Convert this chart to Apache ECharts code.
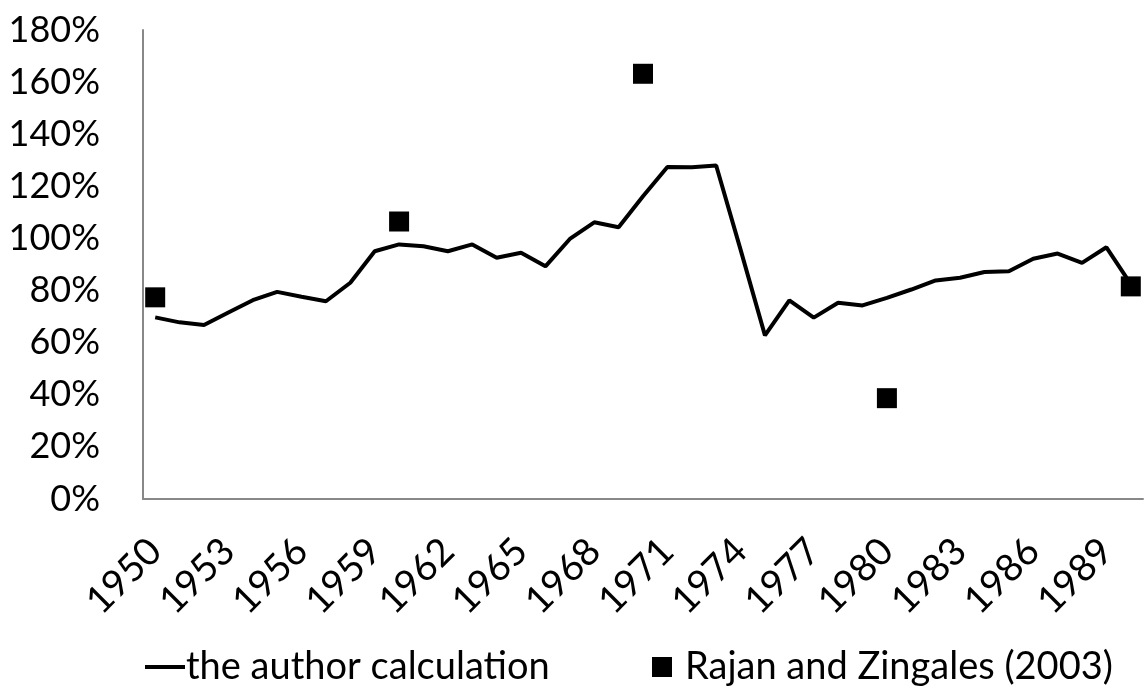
<!DOCTYPE html>
<html>
<head>
<meta charset="utf-8">
<script src="https://cdn.jsdelivr.net/npm/echarts@6/dist/echarts.min.js"></script>
<style>
  html, body { margin: 0; padding: 0; background: #fff; }
  #chart { width: 1144px; height: 696px; }
</style>
</head>
<body>
<div id="chart"></div>
<script>
// years 1950..1990
var years = [];
for (var y = 1950; y <= 1990; y++) years.push(String(y));

// line, in percent
var authorCalc = [
  69.7, 67.8, 66.8, 71.6, 76.3, 79.5, 77.6, 75.9, 83.0, 95.1,
  97.7, 97.0, 95.1, 97.7, 92.6, 94.5, 89.3, 99.8, 106.2, 104.3,
  116.2, 127.4, 127.3, 128.0, 95.7, 62.8, 76.2, 69.6, 75.3, 74.3,
  77.2, 80.4, 83.9, 84.9, 87.1, 87.4, 92.2, 94.2, 90.6, 96.6,
  82.5
];

// squares, every ten years
var rzYears = ['1950', '1960', '1970', '1980', '1990'];
var rzValues = [77.4, 106.5, 163.2, 38.7, 81.6];

var fontName = 'Lato, "Noto Sans", sans-serif';
var lineName = 'the author calculation';
var dotName = 'Rajan and Zingales (2003)';

var chart = echarts.init(document.getElementById('chart'));
chart.setOption({
  animation: false,
  textStyle: { fontFamily: fontName, color: '#000' },
  grid: { left: 143, right: 1, top: 30, bottom: 197, containLabel: false },
  legend: [{
    data: [{ name: lineName, icon: 'rect' }],
    left: 140, top: 643,
    itemWidth: 40, itemHeight: 4, itemGap: 4,
    textStyle: { fontSize: 38, color: '#000', fontFamily: fontName, padding: [0, 0, 0, -4] }
  }, {
    data: [{ name: dotName, icon: 'rect' }],
    left: 647, top: 643,
    itemWidth: 20, itemHeight: 20,
    textStyle: { fontSize: 38, color: '#000', fontFamily: fontName, padding: [0, 0, 0, 8] }
  }],
  xAxis: {
    type: 'category',
    data: years,
    boundaryGap: true,
    axisLine: { lineStyle: { color: '#888', width: 2 } },
    axisTick: { show: false },
    axisLabel: {
      interval: 2,
      rotate: 45,
      fontSize: 38,
      color: '#000',
      margin: 46
    }
  },
  yAxis: {
    type: 'value',
    min: 0, max: 180, interval: 20,
    splitLine: { show: false },
    axisLine: { show: true, lineStyle: { color: '#888', width: 2 } },
    axisTick: { show: false },
    axisLabel: {
      formatter: '{value}%',
      fontSize: 36,
      color: '#000',
      margin: 43
    }
  },
  series: [{
    name: lineName,
    type: 'line',
    data: authorCalc,
    showSymbol: false,
    symbol: 'none',
    itemStyle: { color: '#000' },
    lineStyle: { color: '#000', width: 4 }
  }, {
    name: dotName,
    type: 'scatter',
    data: rzYears.map(function (yr, i) { return [yr, rzValues[i]]; }),
    symbol: 'rect',
    symbolSize: 20,
    itemStyle: { color: '#000', opacity: 1 }
  }]
});
</script>
</body>
</html>
